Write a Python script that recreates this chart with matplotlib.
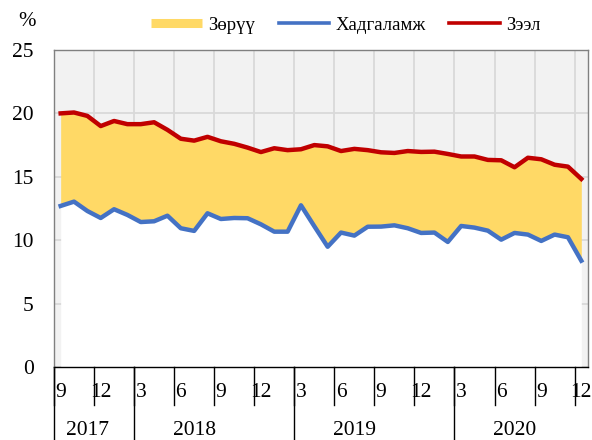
import numpy as np
import matplotlib.pyplot as plt
from matplotlib.lines import Line2D
from matplotlib.transforms import blended_transform_factory

plt.rcParams['font.family'] = ['Liberation Serif', 'DejaVu Serif']

# monthly rates, 2017-09 .. 2020-12
loan = [20.0, 20.07, 19.8, 19.0, 19.4, 19.15, 19.15, 19.3, 18.7, 18.0,
        17.85, 18.15, 17.8, 17.6, 17.3, 16.95, 17.25, 17.1, 17.17, 17.5,
        17.4, 17.03, 17.2, 17.1, 16.93, 16.88, 17.03, 16.96, 16.98, 16.8,
        16.6, 16.6, 16.33, 16.3, 15.75, 16.5, 16.38, 15.95, 15.8, 14.83]
deposit = [12.7, 13.04, 12.3, 11.75, 12.44, 11.99, 11.43, 11.49, 11.93, 10.94,
           10.73, 12.12, 11.67, 11.75, 11.73, 11.25, 10.67, 10.67, 12.75, 11.1,
           9.48, 10.6, 10.36, 11.06, 11.07, 11.17, 10.94, 10.57, 10.6, 9.86,
           11.12, 10.99, 10.75, 10.04, 10.57, 10.44, 9.94, 10.44, 10.23, 8.38]
month_labels = ['9', '12', '3', '6', '9', '12', '3', '6', '9', '12', '3', '6', '9', '12']
years = ['2017', '2018', '2019', '2020']
year_mid = [2, 10, 22, 34]        # centre month index of each year
year_lines = [0, 6, 18, 30]       # separator positions (category units)

yellow = '#FFD966'
blue = '#4472C4'
red = '#C00000'

n = len(loan)
x = np.arange(n) + 0.5

fig = plt.figure(figsize=(5.92, 4.4), dpi=100)
ax = fig.add_axes([0.0912, 0.166, 0.902, 0.7204])
ax.set_facecolor('#F2F2F2')

ax.fill_between(x, 0, deposit, color='white', lw=0, zorder=2)
ax.fill_between(x, deposit, loan, color=yellow, lw=0, zorder=2)
ax.plot(x, deposit, color=blue, lw=3.2, zorder=3)
ax.plot(x, loan, color=red, lw=3.2, zorder=3)

ax.set_xlim(0, n)
ax.set_ylim(0, 25)
ax.set_yticks([0, 5, 10, 15, 20, 25])
ax.set_xticks(np.arange(0, n, 3))
ax.set_xticklabels([])
ax.tick_params(axis='y', length=0, pad=14.5, labelsize=15.5)
ax.tick_params(axis='x', length=0)
ax.grid(color='#D9D9D9', lw=1.3, zorder=0)
ax.set_axisbelow(True)

for s in ['left', 'top', 'right']:
    ax.spines[s].set_color('#808080')
    ax.spines[s].set_linewidth(1.0)
ax.spines['bottom'].set_color('black')
ax.spines['bottom'].set_linewidth(1.0)

# two level category axis
tr = blended_transform_factory(ax.transData, ax.transAxes)
for k, lab in enumerate(month_labels):
    pos = 3 * k
    ax.plot([pos, pos], [0, -0.12], color='black', lw=1, transform=tr, clip_on=False)
    ax.text(pos + 0.5, -0.082, lab, transform=tr, ha='center', va='center', fontsize=15.5)
for pos in year_lines:
    ax.plot([pos, pos], [0, -0.24], color='black', lw=1, transform=tr, clip_on=False)
for yr, mid in zip(years, year_mid):
    ax.text(mid + 0.5, -0.202, yr, transform=tr, ha='center', va='center', fontsize=15.5)

fig.text(27 / 592, 1 - 22 / 440, '%', ha='center', va='center', fontsize=15)

handles = [Line2D([], [], color=yellow, lw=6.5, solid_capstyle='butt'),
           Line2D([], [], color=blue, lw=2.6),
           Line2D([], [], color=red, lw=2.6)]
fig.legend(handles, ['Зөрүү', 'Хадгаламж', 'Зээл'], loc='center',
           bbox_to_anchor=(346 / 592, 1 - 25 / 440), ncol=3, frameon=False,
           fontsize=13.5, handlelength=2.7, handletextpad=0.35, columnspacing=1.25)

fig.savefig('out.png', dpi=100)
